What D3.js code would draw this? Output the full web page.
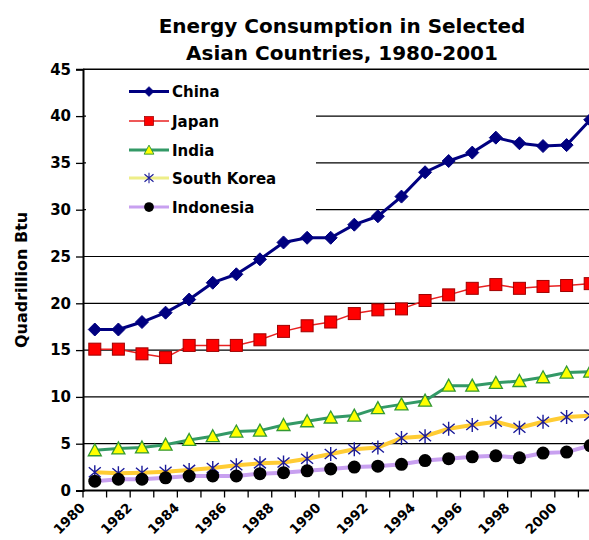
<!DOCTYPE html>
<html><head><meta charset="utf-8">
<script src="https://cdn.jsdelivr.net/npm/d3@7/dist/d3.min.js"></script>
<style>
html,body{margin:0;padding:0;background:#fff;overflow:hidden;}
text{font-family:"DejaVu Sans",Arial,sans-serif;font-weight:bold;fill:#000;}
</style></head>
<body>
<svg id="chart" width="589" height="540"></svg>
<script>
const years = d3.range(1980, 2002);
const tickLabels = ["1980","1982","1984","1986","1988","1990","1992","1994","1996","1998","2000"];
const yTicks = [0,5,10,15,20,25,30,35,40,45];
const china = [17.2,17.2,18.0,19.0,20.4,22.2,23.1,24.7,26.5,27.0,27.0,28.4,29.3,31.4,34.0,35.2,36.1,37.7,37.1,36.8,36.9,39.6];
const japan = [15.1,15.1,14.6,14.2,15.5,15.5,15.5,16.1,17.0,17.6,18.0,18.9,19.3,19.4,20.3,20.9,21.6,22.0,21.6,21.8,21.9,22.1];
const india = [4.3,4.5,4.6,4.9,5.4,5.8,6.3,6.4,7.0,7.4,7.8,8.0,8.8,9.2,9.6,11.2,11.2,11.5,11.7,12.1,12.6,12.7];
const southKorea = [1.95,1.85,1.9,2.0,2.2,2.4,2.7,2.9,3.0,3.4,3.9,4.4,4.6,5.6,5.8,6.6,7.0,7.35,6.7,7.35,7.85,8.0];
const indonesia = [1.0,1.2,1.2,1.35,1.55,1.55,1.55,1.8,1.9,2.1,2.3,2.5,2.6,2.8,3.2,3.4,3.6,3.7,3.5,4.0,4.1,4.8];
const seriesNames = ["China","Japan","India","South Korea","Indonesia"];

const series = [
  {name:"China", values:china, line:"#000080", lw:3, marker:"diamond", fill:"#000080", stroke:"#000080"},
  {name:"Japan", values:japan, line:"#e82020", lw:1.5, marker:"square", fill:"#ff0000", stroke:"#a00000"},
  {name:"India", values:india, line:"#339966", lw:3, marker:"triangle", fill:"#ffff00", stroke:"#339933"},
  {name:"South Korea", values:southKorea, line:"#ffcc33", lw:4, marker:"star", fill:"none", stroke:"#1a1a9a"},
  {name:"Indonesia", values:indonesia, line:"#c8a0f0", lw:4, marker:"circle", fill:"#000000", stroke:"#000000"}
];

const svg = d3.select("#chart");
const x0 = 83, x1 = 602, yTop = 69.3, yBot = 490.5;
const x = d3.scaleBand().domain(years).range([x0, x1]).paddingInner(0).paddingOuter(0);
const y = d3.scaleLinear().domain([0,45]).range([yBot, yTop]);
const cx = d => x(d) + x.bandwidth()/2;

// Title
svg.append("text").attr("x", 342).attr("y", 33).attr("text-anchor","middle").style("font-size","20px").text("Energy Consumption in Selected");
svg.append("text").attr("x", 342).attr("y", 60).attr("text-anchor","middle").style("font-size","20px").text("Asian Countries, 1980-2001");

// Gridlines
svg.append("g").selectAll("line").data(yTicks.filter(v=>v>0)).join("line")
  .attr("x1", x0).attr("x2", x1).attr("y1", d=>y(d)).attr("y2", d=>y(d))
  .attr("stroke", "#000").attr("stroke-width", d => d===45 ? 1.5 : 1.2);

// Y axis
const yAxis = svg.append("g").attr("transform", `translate(${x0},0)`)
  .call(d3.axisLeft(y).tickValues(yTicks).tickSize(7).tickPadding(5));
yAxis.select(".domain").attr("stroke","#000").attr("stroke-width",2);
yAxis.selectAll(".tick line").attr("stroke","#000").attr("stroke-width",1.3);
yAxis.selectAll("text").style("font-size","15px").style("font-family","'DejaVu Sans',Arial,sans-serif").style("font-weight","bold").attr("fill","#000");

// X axis line and ticks
svg.append("line").attr("x1", x0).attr("x2", x1).attr("y1", yBot).attr("y2", yBot).attr("stroke","#000").attr("stroke-width",2);
const boundaries = years.map(d => x(d)).concat([x1]);
svg.append("g").selectAll("line").data(boundaries).join("line")
  .attr("x1", d=>d).attr("x2", d=>d).attr("y1", yBot).attr("y2", yBot+7)
  .attr("stroke","#000").attr("stroke-width",1.3);
svg.append("g").selectAll("text").data(tickLabels).join("text")
  .attr("transform", d => `translate(${cx(+d)-9},${yBot+18}) rotate(-45)`)
  .attr("text-anchor","end").style("font-size","13.5px").text(d=>d);

// Y title
svg.append("text").attr("transform", `translate(27,${(yTop+yBot)/2}) rotate(-90)`)
  .attr("text-anchor","middle").style("font-size","16px").text("Quadrillion Btu");

// marker drawing
function drawMarker(g, type, s) {
  if (type === "diamond") {
    g.append("path").attr("d","M0,-6.5L6.5,0L0,6.5L-6.5,0Z").attr("fill",s.fill).attr("stroke",s.stroke).attr("stroke-width",1);
  } else if (type === "square") {
    g.append("rect").attr("x",-6).attr("y",-6).attr("width",12).attr("height",12).attr("fill",s.fill).attr("stroke",s.stroke).attr("stroke-width",1);
  } else if (type === "triangle") {
    g.append("path").attr("d","M0,-6.5L6.5,5.5L-6.5,5.5Z").attr("fill",s.fill).attr("stroke",s.stroke).attr("stroke-width",1.3);
  } else if (type === "star") {
    g.append("path").attr("d","M0,-7L0,7M-6,-5L6,5M-6,5L6,-5").attr("fill","none").attr("stroke",s.stroke).attr("stroke-width",1.4);
  } else if (type === "circle") {
    g.append("circle").attr("r",6.5).attr("fill",s.fill);
  }
}

const plot = svg.append("g");
const lineGen = d3.line().x((d,i)=>cx(years[i])).y(d=>y(d));
series.forEach(s => {
  plot.append("path").datum(s.values).attr("d", lineGen).attr("fill","none")
    .attr("stroke", s.line).attr("stroke-width", s.lw).attr("stroke-linejoin","round");
});
series.forEach(s => {
  s.values.forEach((v,i) => {
    const g = plot.append("g").attr("transform", `translate(${cx(years[i])},${y(v)})`);
    drawMarker(g, s.marker, s);
  });
});

// Legend
const leg = svg.append("g");
leg.append("rect").attr("x", 86).attr("y", 74).attr("width", 230).attr("height", 148).attr("fill","#fff");
const legY = [91.5, 121, 150, 178, 207];
series.forEach((s,i) => {
  const g = leg.append("g").attr("transform", `translate(0,${legY[i]})`);
  g.append("line").attr("x1",129).attr("x2",169).attr("y1",0).attr("y2",0)
    .attr("stroke", s.name==="South Korea" ? "#eeee88" : s.line).attr("stroke-width", s.name==="Japan"?1.5:3);
  const m = g.append("g").attr("transform","translate(149,0) scale(0.75)");
  drawMarker(m, s.marker, s);
  g.append("text").attr("x",172).attr("y",5.5).style("font-size","15px").text(seriesNames[i]);
});
</script>
</body></html>
